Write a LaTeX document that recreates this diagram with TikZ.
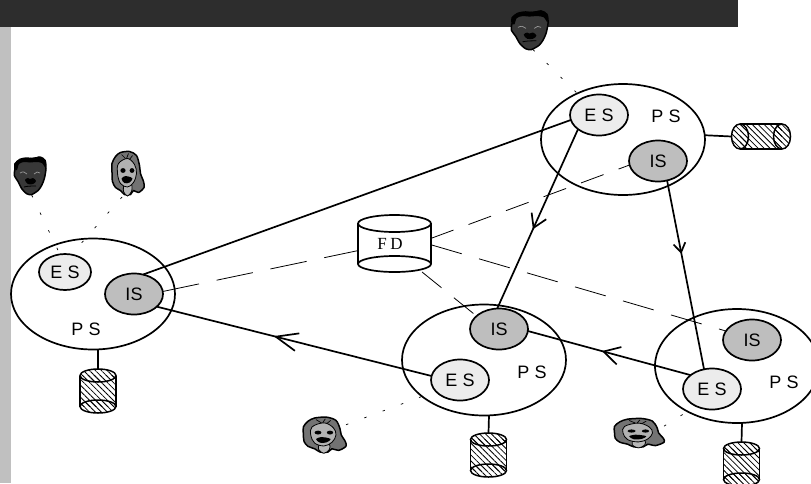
\documentclass[tikz,border=0pt]{standalone}
\usepackage{fontspec}
\setmainfont{Liberation Sans}
\newfontfamily\spacedsans[LetterSpace=30]{Liberation Sans}
\newfontfamily\spacedserif[LetterSpace=22]{Liberation Serif}
\usetikzlibrary{shapes.geometric,patterns.meta,decorations.markings}
\definecolor{barcol}{HTML}{2D2D2D}
\definecolor{stripcol}{HTML}{C0C0C0}
\definecolor{escol}{HTML}{ECECEC}
\definecolor{iscol}{HTML}{BEBEBE}
\tikzset{
  x=1pt,y=-1pt,
  psnode/.style={draw=black,line width=1.7pt,ellipse,minimum width=164pt,minimum height=111pt,inner sep=0pt,outer sep=0pt},
  esnode/.style={draw=black,line width=1.7pt,ellipse,fill=escol,minimum width=58pt,minimum height=41pt,inner sep=0pt,outer sep=0pt,font=\fontsize{18}{20}\spacedsans},
  isnode/.style={draw=black,line width=1.7pt,ellipse,fill=iscol,minimum width=58pt,minimum height=41pt,inner sep=0pt,outer sep=0pt,font=\fontsize{18}{20}\selectfont},
  pslabel/.style={inner sep=0pt,font=\fontsize{18}{20}\spacedsans},
  slot/.style={inner sep=0pt,outer sep=0pt,minimum width=#1},
  solidlink/.style={line width=1.7pt,draw=black},
  dashlink/.style={line width=.8pt,draw=black,dash pattern=on 30pt off 17pt},
  dotlink/.style={line width=.7pt,draw=black,dash pattern=on 2.5pt off 17pt},
  hatch/.style={pattern={Lines[angle=-45,distance=4.2pt,line width=.8pt]},pattern color=black},
  barb/.style n args={3}{postaction={decorate},decoration={markings,mark=at position #1 with {\draw[solid,line width=1.7pt] (-#2pt,#3pt)--(0pt,0pt)--(-#2pt,-#3pt);}}},
  pics/vcyl/.style={code={
    \fill[white] (-18,-15.5) rectangle (18,15.5);
    \path[hatch] (-18,-15.5) rectangle (18,15.5);
    \path[hatch] (0,-15.5) ellipse [x radius=18,y radius=6.5];
    \path[hatch] (0,15.5) ellipse [x radius=18,y radius=6.5];
    \draw[line width=1.5pt] (0,-15.5) ellipse [x radius=18,y radius=6.5];
    \draw[line width=1.5pt] (0,15.5) ellipse [x radius=18,y radius=6.5];
    \draw[line width=1.5pt] (-18,-15.5)--(-18,15.5) (18,-15.5)--(18,15.5);
  }},
  pics/hcyl/.style={code={
    \path[hatch] (-21,-12.5) rectangle (21,12.5);
    \path[hatch] (-21,0) ellipse [x radius=8.5,y radius=12.5];
    \path[hatch] (21,0) ellipse [x radius=8.5,y radius=12.5];
    \draw[line width=1.5pt] (-21,0) ellipse [x radius=8.5,y radius=12.5];
    \draw[line width=1.5pt] (21,0) ellipse [x radius=8.5,y radius=12.5];
    \draw[line width=1.5pt] (-21,-12.5)--(21,-12.5) (-21,12.5)--(21,12.5);
  }},
  pics/manface/.style={code={
    \draw[fill=black!78,line width=1.5pt,line join=round] plot[smooth cycle,tension=.45] coordinates {(-15,-12.3)(-10,-16.7)(-3.3,-18)(3.3,-17.3)(10,-19)(15,-15.7)(16,-7.3)(14.3,2.7)(11.7,9.3)(8.3,14.3)(1.7,18.5)(-3.3,17.7)(-8.3,12.7)(-11.7,6)(-15.7,-.7)(-15,-7.3)};
    \fill[black] plot[smooth cycle,tension=.5] coordinates {(-15,-12)(-10,-16.7)(0,-18)(10,-19)(15,-15)(15.5,-8)(12,-13)(6,-14)(0,-13.5)(-6,-14)(-11,-12)(-13,-6)(-15,-7)};
    \draw[black!40,line width=.7pt] (-10,-3) .. controls (-7,-5) and (-5,-4) .. (-3,-2);
    \draw[black!40,line width=.7pt] (10,-3) .. controls (8,-5) and (6,-4) .. (4,-2);
    \fill[black] plot[smooth cycle,tension=.6] coordinates {(-5,4)(-2,2)(0,3)(3,2)(6,5)(3,8)(-2,8)};
    \draw[black,line width=.8pt] (-6,11) .. controls (-3,10) and (3,10) .. (6,10);
  }},
  pics/womanface/.style={code={
    \draw[fill=black!55,line width=1.5pt,line join=round] plot[smooth cycle,tension=.5] coordinates {(-7,-21)(2,-22)(9,-18)(12,-8)(13,0)(16,8)(16.5,14)(11,19)(6,17)(3,21)(-3,21)(-7,17)(-12,14)(-15,8)(-15.5,-1)(-15.5,-10)(-12,-17)};
    \draw[fill=black!28,line width=.8pt] plot[smooth cycle,tension=.5] coordinates {(-3,10)(4,11)(4,18)(0,22.5)(-4,18)};
    \draw[fill=black!30,line width=.8pt] plot[smooth cycle,tension=.6] coordinates {(-9,-10)(0,-15)(7,-9)(9,0)(6,9)(0,13.5)(-7,10)(-10,0)};
    \draw[line width=.7pt] (-6,-19)--(-2,-15) (1,-20)--(-1,-15) (5,-18)--(2,-14);
    \fill[black] (-4.5,-3) ellipse [x radius=2.6,y radius=2.4];
    \fill[black] (4.5,-3) ellipse [x radius=2.4,y radius=2.4];
    \fill[black] plot[smooth cycle,tension=.6] coordinates {(-6,5)(-2,2.5)(1,3)(5,5)(2,9)(-3,9.5)};
  }}
}
\begin{document}
\begin{tikzpicture}
\useasboundingbox (0,0) rectangle (811,483);
\fill[white] (0,0) rectangle (811,483);
\fill[stripcol] (0,27) rectangle (11,483);
\fill[barcol] (0,0) rectangle (738,27);

% process sites
\node[psnode] (psT) at (623,139.5) {};
\node[psnode] (psL) at (93,294) {};
\node[psnode] (psB) at (484,360) {};
\node[psnode,minimum height=114pt] (psR) at (737,366) {};
% inner servers
\node[esnode] (esT) at (599,115) {ES};
\node[isnode] (isT) at (658,161) {IS};
\node[esnode,minimum width=52pt,minimum height=36pt] (esL) at (65,272) {ES};
\node[isnode] (isL) at (134,294) {IS};
\node[isnode] (isB) at (499,329) {IS};
\node[esnode] (esB) at (460,380) {ES};
\node[isnode] (isR) at (752,340) {IS};
\node[esnode] (esR) at (712,389) {ES};
% PS labels
\node[pslabel] (lT) at (666,116) {PS};
\node[pslabel] (lL) at (86,329) {PS};
\node[pslabel] (lB) at (532,372) {PS};
\node[pslabel] (lR) at (784,382) {PS};

% FD drum
\node[inner sep=0pt,outer sep=0pt,minimum width=73pt,minimum height=57pt] (fd) at (394.5,243.5) {};
\fill[white] (358,223.5) rectangle (431,264);
\draw[line width=1.7pt] (358,223.5)--(358,264) (431,223.5)--(431,264);
\draw[line width=1.7pt,fill=white] (394.5,223.5) ellipse [x radius=36.5,y radius=8.5];
\draw[line width=1.7pt,fill=white] (394.5,264) ellipse [x radius=36.5,y radius=8];
\node[inner sep=0pt,font=\fontsize{17}{18}\spacedserif] (fdt) at (390,243.5) {FD};

% placeholders for the pictures and stores
\node[slot=32pt,minimum height=38pt] (fT) at (529.5,30.5) {};
\node[slot=32pt,minimum height=38pt] (fL) at (30,176) {};
\node[slot=33pt,minimum height=47pt] (wL) at (127.5,173.5) {};
\node[slot=44pt,minimum height=38pt] (wB) at (324,435) {};
\node[slot=51pt,minimum height=30pt] (wR) at (638.5,433) {};
\node[slot=36pt,minimum height=44pt] (cL) at (98,391) {};
\node[slot=36pt,minimum height=44pt] (cB) at (488.5,455) {};
\node[slot=36pt,minimum height=44pt] (cR) at (741.5,464) {};
\node[slot=59pt,minimum height=25pt] (cT) at (761,136.5) {};

% store links
\draw[solidlink] (psT.3) -- (cT.west);
\draw[solidlink] (psL.south) ++(5,0) -- (cL.north);
\draw[solidlink] (psB.south) ++(5,0) -- (cB.north);
\draw[solidlink] (psR.south) ++(5,0) -- (cR.north);
\pic at (98,391) {vcyl};
\pic at (488.5,455) {vcyl};
\pic at (741.5,464) {vcyl};
\pic at (761,136.5) {hcyl};

% solid links
\draw[solidlink] (esT.190) -- (isL.65);
\path[solidlink,barb={.567}{22}{9}] (esB.172) -- (isL.331.5);
\path[solidlink,barb={.535}{16}{9}] (esR.147) -- (isB.356);
\path[solidlink,barb={.55}{13}{8}] (esT.214) -- (isB.95);
\path[solidlink,barb={.38}{9}{6}] (isT.295) -- (esR.112);

% dashed links
\draw[dashlink,dash pattern=on 24pt off 16pt] (fd.8.6) -- (isT.188);
\draw[dashlink,dash pattern=on 37pt off 18pt] (isL.5) -- (fd.191.6);
\draw[dashlink,dash pattern=on 32pt off 18pt] (fd.358) -- (isR.161.5);
\draw[dashlink,dash pattern=on 25pt off 16pt] (fd.314) -- (isB.150);

% dotted links
\draw[dotlink] (fT.280) -- (esT.135);
\draw[dotlink] (fL.275) -- (esL.106);
\draw[dotlink] (wL.257) -- (esL.70);
\draw[dotlink] (wB.25) -- (esB.205);
\draw[dotlink] (wR.15.6) -- (esR.227);

% faces
\pic[xscale=1.16,yscale=1.03] at (529.5,30.5) {manface};
\pic at (30,176) {manface};
\pic at (127.5,173.5) {womanface};
\pic[xscale=1.33,yscale=.81] at (324,435) {womanface};
\pic[xscale=1.55,yscale=.66] at (638.5,433) {womanface};
\end{tikzpicture}
\end{document}
